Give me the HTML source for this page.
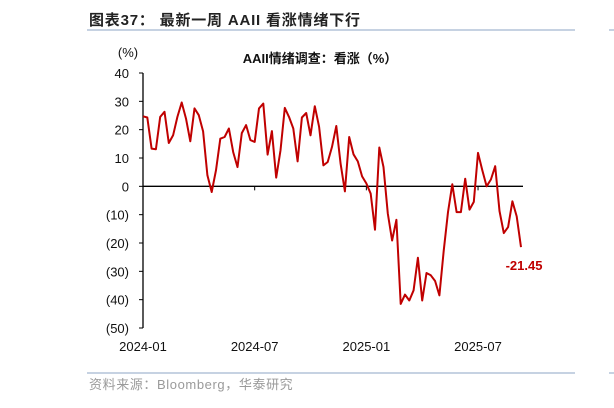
<!DOCTYPE html>
<html><head><meta charset="utf-8">
<style>
body{margin:0;background:#fff;width:614px;height:403px;overflow:hidden;font-family:"Liberation Sans","Noto Sans CJK SC",sans-serif;}
</style></head><body>
<svg width="614" height="403" viewBox="0 0 614 403" xmlns="http://www.w3.org/2000/svg" id="chart">
<text x="89" y="25" font-size="15" font-weight="bold" letter-spacing="0.8" fill="#222" font-family="Liberation Sans, Noto Sans CJK SC, sans-serif">图表37：  最新一周 AAII 看涨情绪下行</text>
<line x1="87" y1="30" x2="575" y2="30" stroke="#8ea6c6" stroke-width="1"/>
<line x1="609" y1="30" x2="614" y2="30" stroke="#8ea6c6" stroke-width="1"/>
<text x="320" y="63" font-size="13" font-weight="bold" text-anchor="middle" fill="#111">AAII情绪调查：看涨（%）</text>
<text x="128" y="57" font-size="13" text-anchor="middle" fill="#111">(%)</text>
<g id="axes"></g>
<g id="series"></g>
<line x1="87" y1="373" x2="575" y2="373" stroke="#8ea6c6" stroke-width="1"/>
<line x1="609" y1="373" x2="614" y2="373" stroke="#8ea6c6" stroke-width="1"/>
<text x="89" y="389" font-size="13" letter-spacing="0.6" fill="#9a9a9a">资料来源：Bloomberg，华泰研究</text>
</svg>
<script>
const values=[24.7,24.3,13.3,13.1,24.5,26.3,15.3,18,24.5,29.6,23.9,15.9,27.5,25.1,19.4,3.9,-2,5.7,16.8,17.4,20.4,12.1,6.8,18.8,21.6,16.3,15.7,27.5,29.2,11.2,19.5,3.1,12.7,27.7,24.5,20.4,8.8,24.3,25.9,18,28.3,21,7.4,
8.6,13.9,21.3,8,-1.8,17.4,11.3,8.8,3.5,1,-2.6,-15.3,13.7,6.8,-9.6,-19.1,-11.8,-41.5,-38.2,-40.3,-36.7,-25.2,-40.3,-30.6,-31.4,-33.4,-38.5,-22.8,-9.1,0.7,-9.1,-9.1,2.7,-8.2,-5.5,11.8,5.7,0,2.4,7.1,-8.7,-16.5,-14.4,-5.3,-10.6,-21.45];
const yTicks=[40,30,20,10,0,-10,-20,-30,-40,-50];
const yTickLabels=["40","30","20","10","0","(10)","(20)","(30)","(40)","(50)"];
const xTickIdx=[0,26,52,78];
const xTickLabels=["2024-01","2024-07","2025-01","2025-07"];
const lastLabel="-21.45";
const NS="http://www.w3.org/2000/svg";
const x0=143,x1=521,yTop=73,yBot=328;
const n=values.length;
const xs=i=>x0+(x1-x0)*i/(n-1);
const ys=v=>yTop+(40-v)/90*(yBot-yTop);
function mk(t,a,p){const e=document.createElementNS(NS,t);for(const k in a)e.setAttribute(k,a[k]);p.appendChild(e);return e;}
const ax=document.getElementById('axes');
let e=mk('line',{x1:x0,y1:yTop,x2:x0,y2:yBot,stroke:'#000','stroke-width':1.3},ax);


e=mk('line',{x1:x0,y1:ys(0),x2:523,y2:ys(0),stroke:'#000','stroke-width':1.3},ax);


yTicks.forEach((v,i)=>{
 const t=mk('line',{x1:x0-4,y1:ys(v),x2:x0,y2:ys(v),stroke:'#000','stroke-width':1},ax);
 
 
 const l=mk('text',{x:129,y:ys(v)+5,'font-size':13,'text-anchor':'end',fill:'#111'},ax);
 l.textContent=yTickLabels[i];
 
 
});
xTickIdx.forEach((idx,i)=>{
 const t=mk('line',{x1:xs(idx),y1:ys(0),x2:xs(idx),y2:ys(0)+4,stroke:'#000','stroke-width':1},ax);
 
 
 const l=mk('text',{x:xs(idx),y:351,'font-size':13,'text-anchor':'middle',fill:'#111'},ax);
 l.textContent=xTickLabels[i];
 
 
});
const sg=document.getElementById('series');
const pl=mk('polyline',{points:values.map((v,i)=>xs(i).toFixed(1)+','+ys(v).toFixed(1)).join(' '),fill:'none',stroke:'#c00000','stroke-width':2,'stroke-linejoin':'round'},sg);


const ll=mk('text',{x:xs(n-1)+3,y:ys(values[n-1])+23,'font-size':13,'font-weight':'bold','text-anchor':'middle',fill:'#c00000'},sg);
ll.textContent=lastLabel;


</script>
</body></html>
